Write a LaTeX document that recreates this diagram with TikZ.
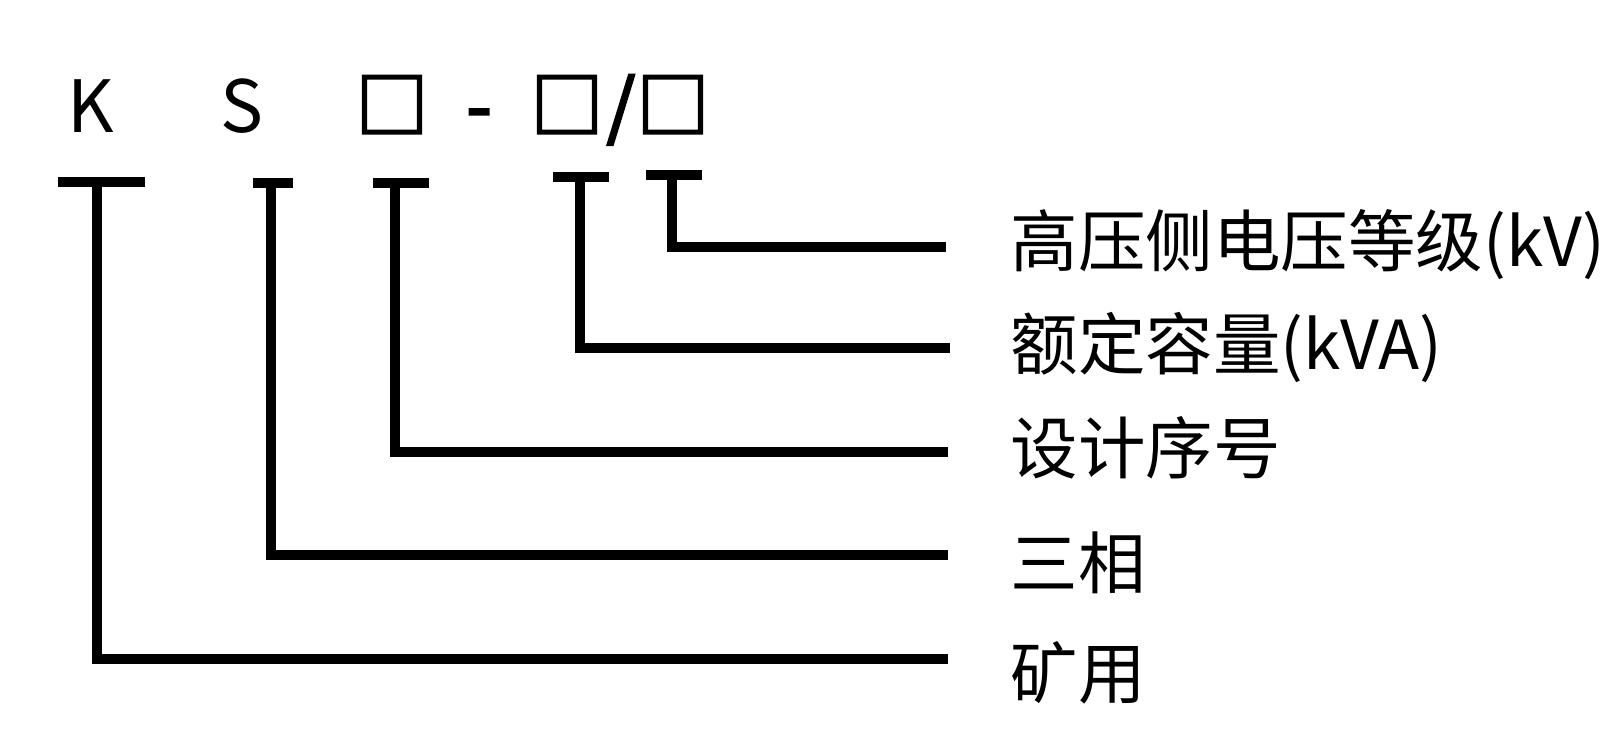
\documentclass[tikz,border=0pt]{standalone}
\usepackage{fontspec}
\setmainfont{Noto Sans CJK SC}
\newfontfamily\heavyfont[FakeBold=3.5]{Noto Sans CJK SC}
\begin{document}
\begin{tikzpicture}[x=0.01cm,y=-0.01cm,
  lead/.style={line width=2.7pt, line join=miter},
  tbar/.style={line width=2.9pt},
  code/.style={inner sep=0pt, anchor=base, font=\fontsize{20.5pt}{22pt}\selectfont},
  hcode/.style={code, font=\heavyfont\fontsize{20.5pt}{22pt}\selectfont},
  desc/.style={inner sep=0pt, anchor=base west, font=\fontsize{19.2pt}{21pt}\selectfont}]
\useasboundingbox (0,0) rectangle (1624,747);
% model code
\node[code] (cK) at (91,132) {K};
\node[code] (cS) at (242,132) {S};
\node[hcode] (cB1) at (392,132) {□};
\node[hcode] (cD) at (479,132) {-};
\node[hcode] (cB2) at (567,132) {□};
\node[hcode] (cSl) at (621,132) {/};
\node[hcode] (cB3) at (673,132) {□};
% descriptions
\node[desc] (dV) at (1010,266) {高压侧电压等级(kV)};
\node[desc] (dP) at (1010,369) {额定容量(kVA)};
\node[desc] (dN) at (1010,473) {设计序号};
\node[desc] (dT) at (1010,588) {三相};
\node[desc] (dM) at (1010,698) {矿用};
% bar coordinates
\coordinate (tK) at (97,182);  \coordinate (eK) at (948,659);
\coordinate (tS) at (271,183); \coordinate (eS) at (948,555);
\coordinate (tB1) at (395,183); \coordinate (eB1) at (948,452);
\coordinate (tB2) at (580,177); \coordinate (eB2) at (950,348);
\coordinate (tB3) at (672,175); \coordinate (eB3) at (946,247);
% T bars
\draw[tbar] (58,182) -- (145,182);
\draw[tbar] (253,183) -- (293,183);
\draw[tbar] (373,183) -- (429,183);
\draw[tbar] (553,177) -- (609,177);
\draw[tbar] (646,175) -- (702,175);
% leaders
\draw[lead] (tK) |- (eK);
\draw[lead] (tS) |- (eS);
\draw[lead] (tB1) |- (eB1);
\draw[lead] (tB2) |- (eB2);
\draw[lead] (tB3) |- (eB3);
\end{tikzpicture}
\end{document}
